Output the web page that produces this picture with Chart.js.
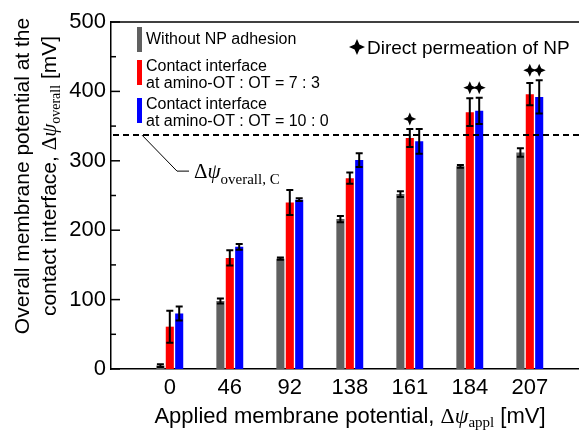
<!DOCTYPE html>
<html lang="en">
<head>
<meta charset="UTF-8">
<title>Overall membrane potential</title>
<script src="https://cdn.jsdelivr.net/npm/chart.js"></script>
<style>
    html, body { margin: 0; padding: 0; background: #fff; }
    #wrap { width: 579px; height: 430px; position: relative; }
</style>
</head>
<body>
<div id="wrap"><canvas id="chart"></canvas></div>
<script>
// applied membrane potential [mV] (x categories)
const appliedLabels = ['0', '46', '92', '138', '161', '184', '207'];

// without NP adhesion
const grayValues = [5, 98, 159, 216, 252, 292, 312];
const grayErr = [2, 3.5, 1.5, 4.5, 4, 2, 6];
// contact interface, amino-OT : OT = 7 : 3
const redValues = [61, 160, 240, 275, 333, 370, 396];
const redErr = [23, 11, 18, 8, 13, 20, 16];
// contact interface, amino-OT : OT = 10 : 0
const blueValues = [80, 176, 244, 301, 328, 372, 392];
const blueErr = [10, 4, 2, 10, 18, 19, 24];

// direct permeation of NP markers (1 = marked)
const redStar = [0, 0, 0, 0, 1, 1, 1];
const blueStar = [0, 0, 0, 0, 0, 1, 1];

const criticalValue = 337;
const yTicks = [0, 100, 200, 300, 400, 500];

const SANS = '"Liberation Sans", Arial, sans-serif';
const SERIF = '"Liberation Serif", "Times New Roman", serif';

const errs = [grayErr, redErr, blueErr];
const stars = [null, redStar, blueStar];

function toPoints(vals) {
    return vals.map((v, i) => ({ x: i, y: v }));
}

// draw a list of text pieces one after another
function drawRuns(ctx, runs, x, y, align) {
    let total = 0;
    runs.forEach(r => { ctx.font = r.font; r.w = ctx.measureText(r.text).width; total += r.w; });
    let cx = align === 'center' ? x - total / 2 : x;
    runs.forEach(r => {
        ctx.font = r.font;
        ctx.fillText(r.text, cx, y + (r.dy || 0));
        cx += r.w;
    });
}

function starShape(ctx, x, y, r) {
    const k = r * 0.3;
    ctx.beginPath();
    ctx.moveTo(x, y - r);
    ctx.lineTo(x + k, y - k);
    ctx.lineTo(x + r, y);
    ctx.lineTo(x + k, y + k);
    ctx.lineTo(x, y + r);
    ctx.lineTo(x - k, y + k);
    ctx.lineTo(x - r, y);
    ctx.lineTo(x - k, y - k);
    ctx.closePath();
    ctx.fill();
}

const decorations = {
    id: 'decorations',
    afterDatasetsDraw(chart) {
        const ctx = chart.ctx;
        const area = chart.chartArea;
        const ys = chart.scales.y;
        ctx.save();

        // frame: top line
        ctx.strokeStyle = '#000';
        ctx.lineWidth = 1.5;
        ctx.beginPath();
        ctx.moveTo(area.left, area.top);
        ctx.lineTo(area.right, area.top);
        ctx.stroke();

        // inward y ticks
        for (let v = 0; v <= 500; v += 50) {
            const py = ys.getPixelForValue(v);
            const len = v % 100 === 0 ? 9 : 5;
            ctx.beginPath();
            ctx.moveTo(area.left, py);
            ctx.lineTo(area.left + len, py);
            ctx.stroke();
        }

        // error bars
        ctx.lineWidth = 2;
        const groupTop = [];
        chart.data.datasets.forEach((ds, di) => {
            const meta = chart.getDatasetMeta(di);
            meta.data.forEach((bar, i) => {
                const v = ds.data[i].y;
                const e = errs[di][i];
                const top = ys.getPixelForValue(v + e);
                const bot = ys.getPixelForValue(v - e);
                ctx.beginPath();
                ctx.moveTo(bar.x, top);
                ctx.lineTo(bar.x, bot);
                ctx.moveTo(bar.x - 3.5, top);
                ctx.lineTo(bar.x + 3.5, top);
                ctx.moveTo(bar.x - 3.5, bot);
                ctx.lineTo(bar.x + 3.5, bot);
                ctx.stroke();
                if (stars[di] && stars[di][i]) {
                    groupTop[i] = Math.min(groupTop[i] === undefined ? Infinity : groupTop[i], top);
                }
            });
        });

        // permeation stars
        ctx.fillStyle = '#000';
        [1, 2].forEach(di => {
            const meta = chart.getDatasetMeta(di);
            meta.data.forEach((bar, i) => {
                if (stars[di][i]) starShape(ctx, bar.x, groupTop[i] - 10, 6.5);
            });
        });

        // critical potential dashed line
        const cy = ys.getPixelForValue(criticalValue);
        ctx.setLineDash([6, 4]);
        ctx.lineWidth = 2;
        ctx.beginPath();
        ctx.moveTo(area.left + 2, cy);
        ctx.lineTo(area.right, cy);
        ctx.stroke();
        ctx.setLineDash([]);

        // leader + label
        ctx.lineWidth = 1;
        ctx.beginPath();
        ctx.moveTo(area.left + 31, cy);
        ctx.lineTo(area.left + 66, cy + 36);
        ctx.lineTo(area.left + 78, cy + 36);
        ctx.stroke();
        ctx.textBaseline = 'alphabetic';
        drawRuns(ctx, [
            { text: '\u0394', font: '21px ' + SERIF },
            { text: '\u03c8', font: 'italic 21px ' + SERIF },
            { text: 'overall, C', font: '15px ' + SERIF, dy: 6 }
        ], area.left + 83, cy + 43, 'left');

        // legend
        const legend = [
            { color: '#606060', y0: 27, lines: ['Without NP adhesion'], base: 44 },
            { color: '#ff0000', y0: 60, lines: ['Contact interface', 'at amino-OT : OT = 7 : 3'], base: 71 },
            { color: '#0000ff', y0: 98, lines: ['Contact interface', 'at amino-OT : OT = 10 : 0'], base: 109 }
        ];
        ctx.font = '16px ' + SANS;
        legend.forEach(item => {
            ctx.fillStyle = item.color;
            ctx.fillRect(137, item.y0, 5, 25);
            ctx.fillStyle = '#000';
            item.lines.forEach((t, k) => ctx.fillText(t, 146, item.base + k * 16.5));
        });
        starShape(ctx, 357, 47, 8);
        ctx.font = '19px ' + SANS;
        ctx.fillText('Direct permeation of NP', 367, 54);

        // x axis title
        drawRuns(ctx, [
            { text: 'Applied membrane potential, ', font: '22px ' + SANS },
            { text: '\u0394', font: '22px ' + SERIF },
            { text: '\u03c8', font: 'italic 22px ' + SERIF },
            { text: 'appl', font: '15px ' + SERIF, dy: 4 },
            { text: ' [mV]', font: '22px ' + SANS }
        ], 350, 423, 'center');

        // y axis title (two rotated lines)
        const midY = 176;
        ctx.save();
        ctx.translate(29, midY);
        ctx.rotate(-Math.PI / 2);
        drawRuns(ctx, [{ text: 'Overall membrane potential at the', font: '21px ' + SANS }], 0, 0, 'center');
        ctx.restore();
        ctx.save();
        ctx.translate(56, midY);
        ctx.rotate(-Math.PI / 2);
        drawRuns(ctx, [
            { text: 'contact interface, ', font: '21px ' + SANS },
            { text: '\u0394', font: '21px ' + SERIF },
            { text: '\u03c8', font: 'italic 21px ' + SERIF },
            { text: 'overall', font: '14px ' + SERIF, dy: 4 },
            { text: ' [mV]', font: '21px ' + SANS }
        ], 0, 0, 'center');
        ctx.restore();

        ctx.restore();
    }
};

new Chart(document.getElementById('chart'), {
    type: 'bar',
    data: {
        datasets: [
            { label: 'Without NP adhesion', data: toPoints(grayValues), backgroundColor: '#606060' },
            { label: 'Contact interface at amino-OT : OT = 7 : 3', data: toPoints(redValues), backgroundColor: '#ff0000' },
            { label: 'Contact interface at amino-OT : OT = 10 : 0', data: toPoints(blueValues), backgroundColor: '#0000ff' }
        ]
    },
    options: {
        responsive: true,
        maintainAspectRatio: false,
        animation: false,
        layout: { padding: { top: 22, right: 0, bottom: 0, left: 0 } },
        datasets: { bar: { categoryPercentage: 0.47, barPercentage: 0.86 } },
        plugins: { legend: { display: false }, tooltip: { enabled: false } },
        scales: {
            x: {
                type: 'linear',
                offset: false,
                min: -0.98,
                max: 6.82,
                afterBuildTicks: s => { s.ticks = appliedLabels.map((l, i) => ({ value: i })); },
                afterFit: s => { s.height = 61; },
                grid: { display: false, drawTicks: false, offset: false },
                border: { display: true, color: '#000', width: 1.5 },
                ticks: {
                    padding: 6,
                    color: '#000',
                    font: { family: SANS, size: 22 },
                    autoSkip: false,
                    maxRotation: 0,
                    callback: v => appliedLabels[v]
                }
            },
            y: {
                min: 0,
                max: 500,
                afterBuildTicks: s => { s.ticks = yTicks.map(v => ({ value: v })); },
                afterFit: s => { s.width = 111; },
                grid: { display: false, drawTicks: false },
                border: { display: true, color: '#000', width: 1.5 },
                ticks: {
                    padding: 5,
                    color: '#000',
                    font: { family: SANS, size: 22 }
                }
            }
        }
    },
    plugins: [decorations]
});
</script>
</body>
</html>
